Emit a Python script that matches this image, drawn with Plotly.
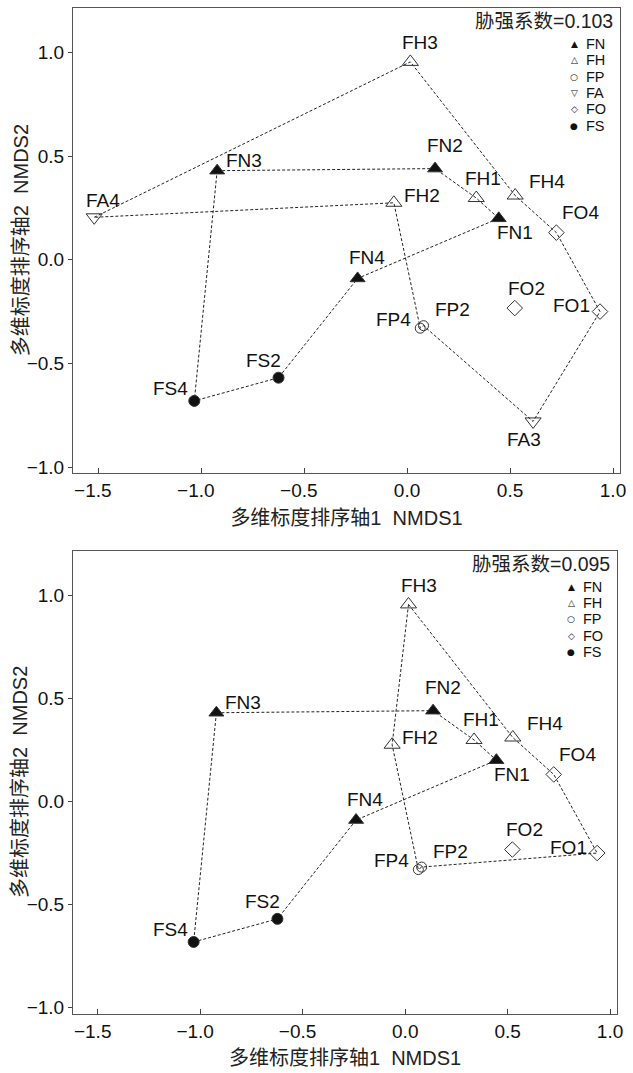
import plotly.graph_objects as go

# NMDS site scores (axis 1 / axis 2)
samples = ["FN1", "FN2", "FN3", "FN4", "FH1", "FH2", "FH3", "FH4", "FP2", "FP4",
           "FA3", "FA4", "FO1", "FO2", "FO4", "FS2", "FS4"]
nmds1 = [0.445, 0.136, -0.922, -0.240, 0.336, -0.064, 0.016, 0.525, 0.080, 0.064,
         0.612, -1.519, 0.937, 0.523, 0.725, -0.624, -1.033]
nmds2 = [0.200, 0.440, 0.430, -0.090, 0.298, 0.275, 0.955, 0.310, -0.318, -0.330,
         -0.780, 0.205, -0.250, -0.233, 0.131, -0.569, -0.681]

# stress of each ordination
stress_top = "0.103"
stress_bottom = "0.095"

# groups shown in each panel
groups_top = ["FN", "FH", "FP", "FA", "FO", "FS"]
groups_bottom = ["FN", "FH", "FP", "FO", "FS"]

# dashed outlines joining samples
outline_top = ["FA4", "FH3", "FH4", "FO4", "FO1", "FA3", "FP2", "FP4", "FH2", "FA4"]
outline_bottom = ["FH3", "FH4", "FO4", "FO1", "FP2", "FP4", "FH2", "FH3"]
outline_inner = ["FN3", "FN2", "FH1", "FN1", "FN4", "FS2", "FS4", "FN3"]

# axis ticks
xticks = [-1.5, -1.0, -0.5, 0.0, 0.5, 1.0]
yticks = [-1.0, -0.5, 0.0, 0.5, 1.0]

FONT = "Liberation Sans, Arial, Noto Sans CJK SC, sans-serif"
INK = "#111111"

# marker style per group: (plotly symbol, size, key glyph)
group_style = {
    "FN": ("triangle-up", 13, "\u25B2"),
    "FH": ("triangle-up-open", 14, "\u25B3"),
    "FP": ("circle-open", 10, "\u25CB"),
    "FA": ("triangle-down-open", 14, "\u25BD"),
    "FO": ("diamond-open", 12, "\u25C7"),
    "FS": ("circle", 11, "\u25CF"),
}

# label placement around each point: (xanchor, xshift, yshift)
label_pos = {
    "FN1": ("center", 16, -14), "FN2": ("center", 10, 23), "FN3": ("left", 7, 10),
    "FN4": ("center", 9, 21), "FH1": ("center", 7, 20), "FH2": ("left", 8, 7),
    "FH3": ("center", 10, 19), "FH4": ("left", 12, 14), "FP2": ("left", 9, 16),
    "FP4": ("right", -7, 9), "FA3": ("center", -9, -18), "FA4": ("center", 9, 17),
    "FO1": ("right", -8, 6), "FO2": ("center", 12, 20), "FO4": ("center", 24, 20),
    "FS2": ("center", -15, 17), "FS4": ("right", -4, 12),
}

coord = {s: (x, y) for s, x, y in zip(samples, nmds1, nmds2)}

W, H = 633, 1073
ML, MR, MT, MB = 73, 7, 7, 54
pw = W - ML - MR
ph = H - MT - MB
top_domain = [1 - 468 / ph, 1.0]
bottom_domain = [0.0, 466 / ph]

fig = go.Figure()
annotations = []

panels = [
    ("x", "y", groups_top, [outline_top, outline_inner], stress_top, top_domain),
    ("x2", "y2", groups_bottom, [outline_bottom, outline_inner], stress_bottom, bottom_domain),
]

for xa, ya, groups, outlines, stress, dom in panels:
    # dashed connecting lines
    for path in outlines:
        fig.add_trace(go.Scatter(
            x=[coord[s][0] for s in path], y=[coord[s][1] for s in path],
            mode="lines", line=dict(color="#222222", width=1, dash="3px,2px"),
            xaxis=xa, yaxis=ya, showlegend=False, hoverinfo="skip"))
    # sample markers and their names
    for g in groups:
        sym, size, _ = group_style[g]
        members = [s for s in samples if s.startswith(g)]
        filled = not sym.endswith("open")
        fig.add_trace(go.Scatter(
            x=[coord[s][0] for s in members], y=[coord[s][1] for s in members],
            mode="markers", name=g, xaxis=xa, yaxis=ya, showlegend=False,
            marker=dict(symbol=sym, size=size, color=INK if filled else "#333333",
                        line=dict(color="#333333", width=1))))
        for s in members:
            anc, dx, dy = label_pos[s]
            annotations.append(dict(
                x=coord[s][0], y=coord[s][1], xref=xa, yref=ya, text=s,
                showarrow=False, xanchor=anc, yanchor="middle",
                xshift=dx, yshift=dy, font=dict(family=FONT, size=19, color=INK)))
    # stress value
    annotations.append(dict(
        x=1, y=1, xref=xa + " domain", yref=ya + " domain",
        text="胁强系数=" + stress, showarrow=False, xanchor="right", yanchor="middle",
        xshift=-5, yshift=-13, font=dict(family=FONT, size=19.5, color="#222222")))
    # key of group symbols
    for i, g in enumerate(groups):
        glyph = group_style[g][2]
        off = 36 + 16.3 * i
        annotations.append(dict(
            x=1, y=1, xref=xa + " domain", yref=ya + " domain", text=glyph,
            showarrow=False, xanchor="center", yanchor="middle",
            xshift=-46, yshift=-off,
            font=dict(family="DejaVu Sans", size=9, color=INK)))
        annotations.append(dict(
            x=1, y=1, xref=xa + " domain", yref=ya + " domain", text=g,
            showarrow=False, xanchor="left", yanchor="middle",
            xshift=-36, yshift=-off,
            font=dict(family=FONT, size=14.5, color=INK)))
    # vertical axis title
    annotations.append(dict(
        x=(20 - ML) / pw, y=(dom[0] + dom[1]) / 2, xref="paper", yref="paper",
        text="多维标度排序轴2\u00a0\u00a0NMDS2", textangle=-90, showarrow=False,
        xanchor="center", yanchor="middle",
        font=dict(family=FONT, size=20, color="#222222")))


def fmt(v):
    s = f"{abs(v):.1f}"
    # minus sign hangs to the left of the centred number
    return "\u2212" + s + "\u00a0\u00a0" if v < 0 else s


def xaxis(domain_right, anchor):
    return dict(domain=[0, domain_right], anchor=anchor, range=[-1.622, 1.034],
                tickvals=xticks, ticktext=[fmt(v) for v in xticks],
                ticks="inside", ticklen=5,
                tickcolor="#444444", showline=True, mirror=True, linecolor="#555555",
                linewidth=1, showgrid=False, zeroline=False,
                tickfont=dict(family=FONT, size=19, color=INK),
                title=dict(text="多维标度排序轴1\u00a0\u00a0NMDS1", standoff=10,
                           font=dict(family=FONT, size=20, color="#222222")))


def yaxis(domain, anchor):
    return dict(domain=domain, anchor=anchor, range=[-1.03, 1.215],
                tickvals=yticks, tickformat=".1f", ticks="outside", ticklen=4,
                tickcolor="#444444", showline=True, mirror=True, linecolor="#555555",
                linewidth=1, showgrid=False, zeroline=False,
                tickfont=dict(family=FONT, size=19, color=INK))


fig.update_layout(
    width=W, height=H, autosize=False,
    margin=dict(l=ML, r=MR, t=MT, b=MB),
    paper_bgcolor="white", plot_bgcolor="white",
    xaxis=xaxis(1.0, "y"),
    yaxis=yaxis(top_domain, "x"),
    xaxis2=xaxis((623 - ML) / pw, "y2"),
    yaxis2=yaxis(bottom_domain, "x2"),
    annotations=annotations,
    showlegend=False,
)

fig.write_html("out.html")
